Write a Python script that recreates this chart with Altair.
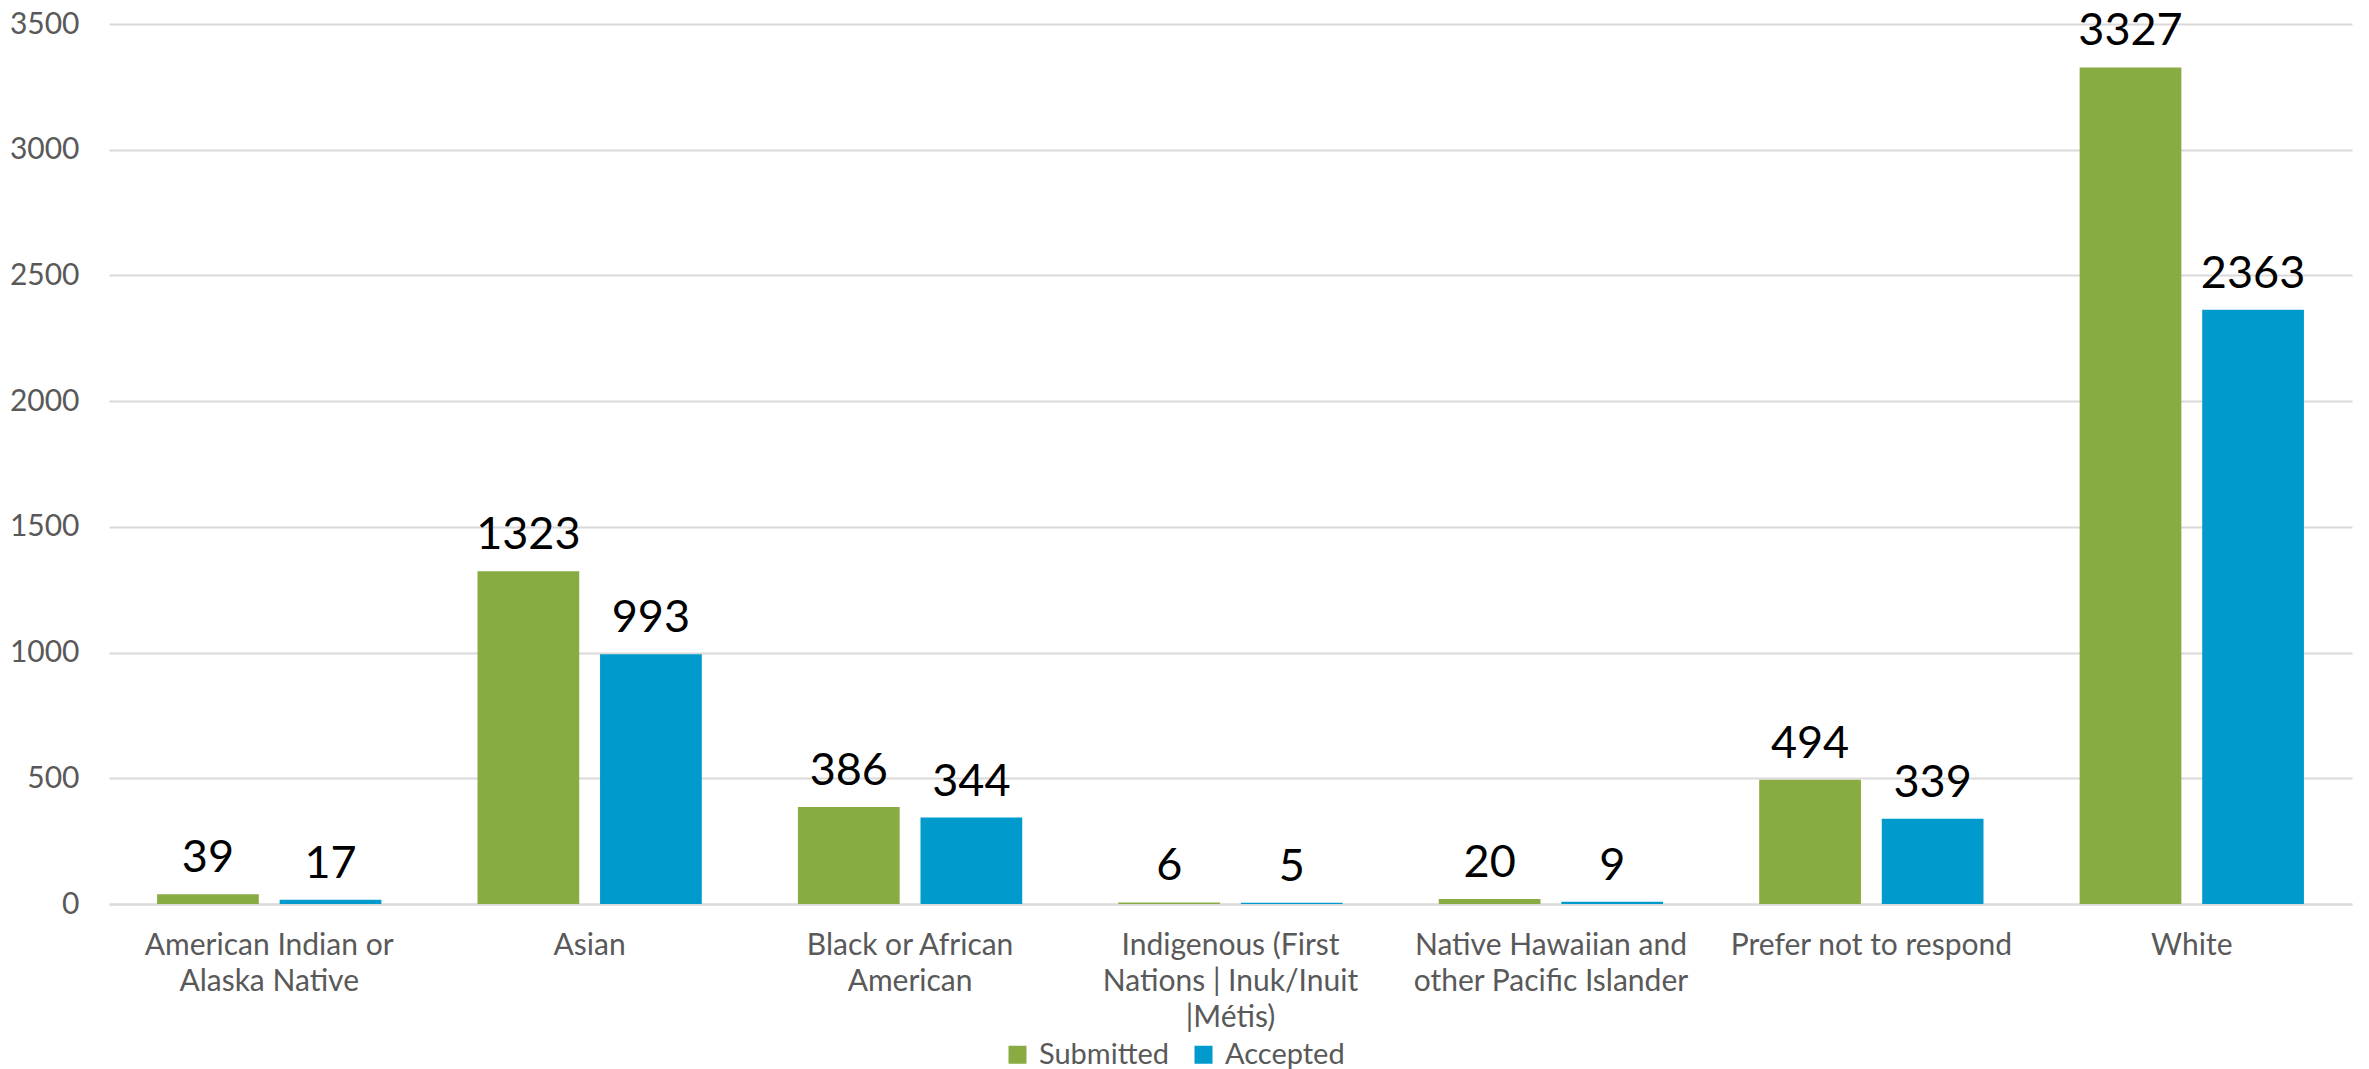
import altair as alt
import pandas as pd

categories = [
    "American Indian or Alaska Native",
    "Asian",
    "Black or African American",
    "Indigenous (First Nations | Inuk/Inuit |Métis)",
    "Native Hawaiian and other Pacific Islander",
    "Prefer not to respond",
    "White",
]
label_lines = [
    ["American Indian or", "Alaska Native"],
    ["Asian"],
    ["Black or African", "American"],
    ["Indigenous (First", "Nations | Inuk/Inuit", "|Métis)"],
    ["Native Hawaiian and", "other Pacific Islander"],
    ["Prefer not to respond"],
    ["White"],
]
series_names = ["Submitted", "Accepted"]
submitted = [39, 1323, 386, 6, 20, 494, 3327]
accepted = [17, 993, 344, 5, 9, 339, 2363]
colors = ["#88AB42", "#009ACD"]
y_ticks = [0, 500, 1000, 1500, 2000, 2500, 3000, 3500]

rows = []
for c, s, a in zip(categories, submitted, accepted):
    rows.append({"category": c, "series": "Submitted", "value": s})
    rows.append({"category": c, "series": "Accepted", "value": a})
df = pd.DataFrame(rows)

# build multi-line label expression
expr = "''"
for c, lines in reversed(list(zip(categories, label_lines))):
    arr = "[" + ",".join("'" + l + "'" for l in lines) + "]"
    expr = f"datum.label == '{c}' ? {arr} : ({expr})"

FONT = "Lato"
GRAY = "#595959"

x_enc = alt.X(
    "category:N",
    sort=categories,
    scale=alt.Scale(paddingInner=0.30, paddingOuter=0.15),
    axis=alt.Axis(
        title=None,
        labelAngle=0,
        labelExpr=expr,
        labelFont=FONT,
        labelFontSize=30,
        labelColor=GRAY,
        labelLineHeight=36,
        labelPadding=26,
        labelLimit=600,
        ticks=False,
        domain=True,
        domainColor="#D9D9D9",
        domainWidth=2,
        grid=False,
    ),
)
xo_enc = alt.XOffset(
    "series:N",
    sort=series_names,
    scale=alt.Scale(domain=series_names, paddingInner=0.17, paddingOuter=0),
)
y_enc = alt.Y(
    "value:Q",
    scale=alt.Scale(domain=[0, 3500], nice=False),
    axis=alt.Axis(
        title=None,
        values=y_ticks,
        format="d",
        labelFont=FONT,
        labelFontSize=30,
        labelColor=GRAY,
        labelPadding=30,
        ticks=False,
        domain=False,
        grid=True,
        gridColor="#D9D9D9",
        gridWidth=2,
    ),
)

bars = alt.Chart(df).mark_bar().encode(
    x=x_enc,
    xOffset=xo_enc,
    y=y_enc,
    color=alt.Color(
        "series:N",
        sort=series_names,
        scale=alt.Scale(domain=series_names, range=colors),
        legend=alt.Legend(
            title=None,
            orient="none",
            direction="horizontal",
            legendX=894,
            legendY=1016,
            symbolType="square",
            symbolSize=324,
            symbolStrokeWidth=0,
            labelFont=FONT,
            labelFontSize=29,
            labelColor=GRAY,
            labelOffset=7,
            columnPadding=20,
        ),
    ),
)

labels = alt.Chart(df).mark_text(
    baseline="alphabetic", dy=-22, font=FONT, fontSize=45, color="black"
).encode(
    x=alt.X("category:N", sort=categories),
    xOffset=alt.XOffset("series:N", sort=series_names),
    y="value:Q",
    text="value:Q",
)

chart = (
    alt.layer(bars, labels)
    .properties(
        width=2243,
        height=880,
        autosize=alt.AutoSizeParams(type="none"),
        padding={"left": 101, "top": 16, "right": 8, "bottom": 165},
    )
    .configure_view(stroke=None)
)

chart.save("out.html", embed_options={"renderer": "svg", "actions": False})
